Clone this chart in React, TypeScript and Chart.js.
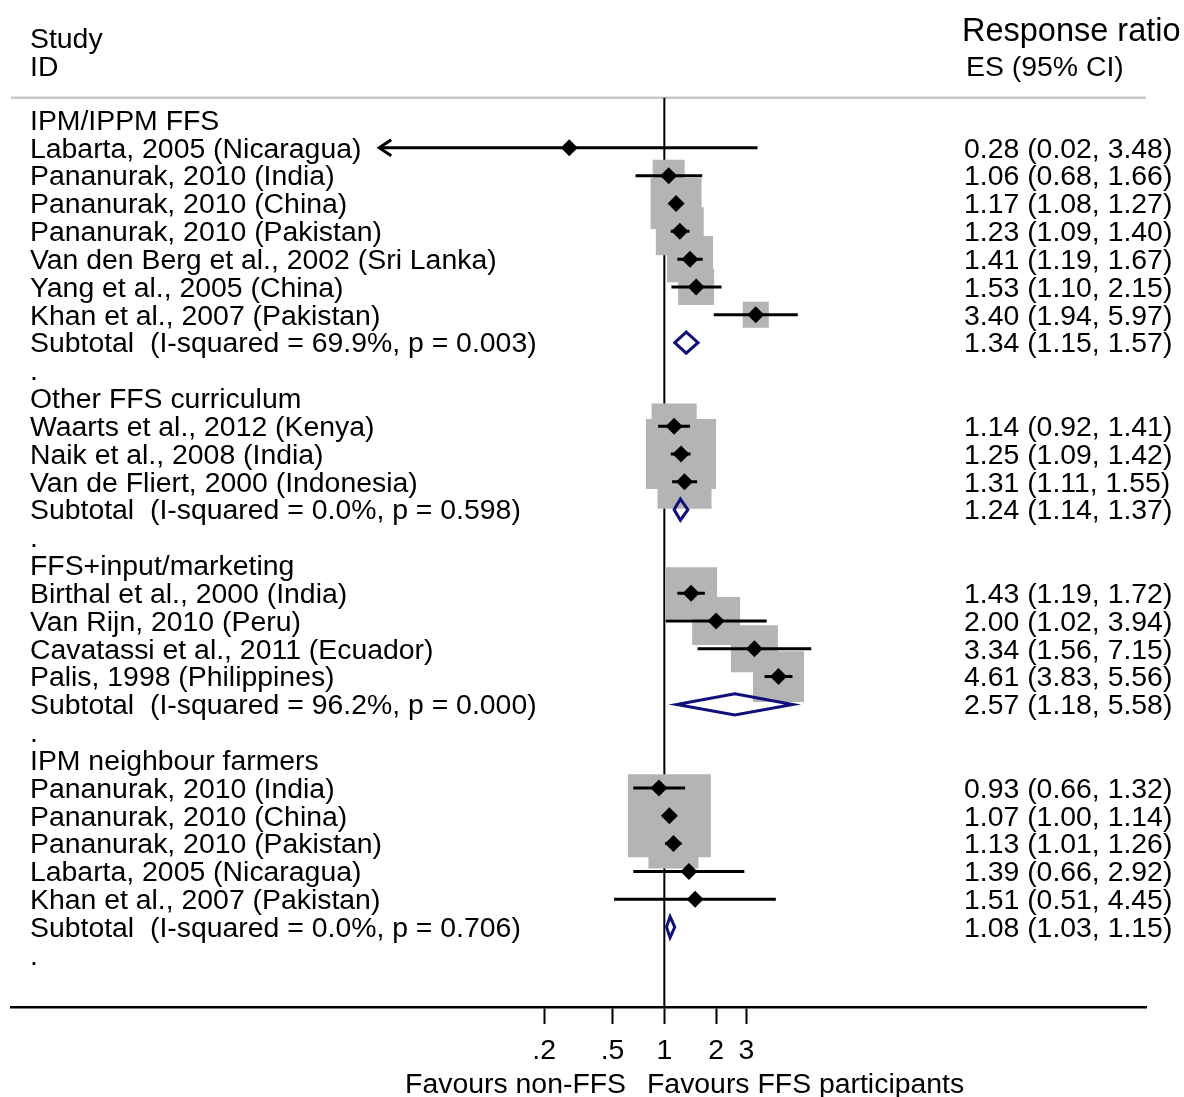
import React, { useEffect, useRef } from "react";
import { Chart, registerables } from "chart.js";

Chart.register(...registerables);

// ---------- data ----------
const rowLabels: string[] = [
  "IPM/IPPM FFS",
  "Labarta, 2005 (Nicaragua)",
  "Pananurak, 2010 (India)",
  "Pananurak, 2010 (China)",
  "Pananurak, 2010 (Pakistan)",
  "Van den Berg et al., 2002 (Sri Lanka)",
  "Yang et al., 2005 (China)",
  "Khan et al., 2007 (Pakistan)",
  "Subtotal  (I-squared = 69.9%, p = 0.003)",
  ".",
  "Other FFS curriculum",
  "Waarts et al., 2012 (Kenya)",
  "Naik et al., 2008 (India)",
  "Van de Fliert, 2000 (Indonesia)",
  "Subtotal  (I-squared = 0.0%, p = 0.598)",
  ".",
  "FFS+input/marketing",
  "Birthal et al., 2000 (India)",
  "Van Rijn, 2010 (Peru)",
  "Cavatassi et al., 2011 (Ecuador)",
  "Palis, 1998 (Philippines)",
  "Subtotal  (I-squared = 96.2%, p = 0.000)",
  ".",
  "IPM neighbour farmers",
  "Pananurak, 2010 (India)",
  "Pananurak, 2010 (China)",
  "Pananurak, 2010 (Pakistan)",
  "Labarta, 2005 (Nicaragua)",
  "Khan et al., 2007 (Pakistan)",
  "Subtotal  (I-squared = 0.0%, p = 0.706)",
  ".",
];

const studyRows = [1, 2, 3, 4, 5, 6, 7, 11, 12, 13, 17, 18, 19, 20, 24, 25, 26, 27, 28];
const studyES = [0.28, 1.06, 1.17, 1.23, 1.41, 1.53, 3.4, 1.14, 1.25, 1.31, 1.43, 2.0, 3.34, 4.61, 0.93, 1.07, 1.13, 1.39, 1.51];
const studyLo = [0.02, 0.68, 1.08, 1.09, 1.19, 1.1, 1.94, 0.92, 1.09, 1.11, 1.19, 1.02, 1.56, 3.83, 0.66, 1.0, 1.01, 0.66, 0.51];
const studyHi = [3.48, 1.66, 1.27, 1.4, 1.67, 2.15, 5.97, 1.41, 1.42, 1.55, 1.72, 3.94, 7.15, 5.56, 1.32, 1.14, 1.26, 2.92, 4.45];
// weights (%) within subgroup
const studyWeight = [0.3, 10.2, 26, 23, 21.2, 13, 6.8, 20.3, 49, 29.2, 27, 23, 22, 26, 4.5, 68.9, 25, 0.6, 0.3];

const subRows = [8, 14, 21, 29];
const subES = [1.34, 1.24, 2.57, 1.08];
const subLo = [1.15, 1.14, 1.18, 1.03];
const subHi = [1.57, 1.37, 5.58, 1.15];

const tickValues = [0.2, 0.5, 1, 2, 3];
const tickLabels = [".2", ".5", "1", "2", "3"];

const xMin = 0.000159;
const xMax = 631.7;
const xClip = 0.022; // CIs beyond the displayed range are drawn as arrows
const yMin = -0.8;
const yMax = 31.87;

// ---------- styles ----------
const FONT = '"Liberation Sans", Arial, Helvetica, sans-serif';
const FS = 28.4;
const BOX_COLOR = "#b4b4b4";
const DIAMOND_COLOR = "#10107a";
const DIAMOND_HALF = 0.38; // rows
const TEXT_DY = 2;

const fmt = (v: number) => v.toFixed(2);

export default function App() {
  const ref = useRef<HTMLCanvasElement | null>(null);

  useEffect(() => {
    if (!ref.current) return;

    const rightLabels: Record<number, string> = {};
    studyRows.forEach((r, i) => {
      rightLabels[r] = `${fmt(studyES[i])} (${fmt(studyLo[i])}, ${fmt(studyHi[i])})`;
    });
    subRows.forEach((r, i) => {
      rightLabels[r] = `${fmt(subES[i])} (${fmt(subLo[i])}, ${fmt(subHi[i])})`;
    });

    const boxData = studyRows.map((r, i) => ({ x: studyES[i], y: r }));
    const boxRadius = studyWeight.map((w) => (10 * Math.sqrt(w)) / Math.SQRT2);

    const ciData: any[] = [];
    studyRows.forEach((r, i) => {
      ciData.push({ x: Math.max(studyLo[i], xClip), y: r });
      ciData.push({ x: studyHi[i], y: r });
      ciData.push({ x: null, y: null });
    });

    const diamondData: any[] = [];
    subRows.forEach((r, i) => {
      diamondData.push({ x: subLo[i], y: r });
      diamondData.push({ x: subES[i], y: r - DIAMOND_HALF });
      diamondData.push({ x: subHi[i], y: r });
      diamondData.push({ x: subES[i], y: r + DIAMOND_HALF });
      diamondData.push({ x: subLo[i], y: r });
      diamondData.push({ x: subES[i], y: r - DIAMOND_HALF });
      diamondData.push({ x: null, y: null });
    });

    const decor = {
      id: "forestDecor",
      beforeDatasetsDraw(chart: any) {
        const { ctx, chartArea, scales } = chart;
        ctx.save();
        ctx.strokeStyle = "#c8c8c8";
        ctx.lineWidth = 2.5;
        ctx.beginPath();
        ctx.moveTo(chartArea.left, chartArea.top);
        ctx.lineTo(chartArea.right, chartArea.top);
        ctx.stroke();
        const x1 = scales.x.getPixelForValue(1);
        ctx.strokeStyle = "#000";
        ctx.lineWidth = 2;
        ctx.beginPath();
        ctx.moveTo(x1, chartArea.top);
        ctx.lineTo(x1, chartArea.bottom);
        ctx.stroke();
        ctx.restore();
      },
      afterDatasetsDraw(chart: any) {
        const { ctx, scales } = chart;
        ctx.save();
        ctx.strokeStyle = "#000";
        ctx.lineWidth = 3;
        studyRows.forEach((r, i) => {
          if (studyLo[i] < xClip) {
            const px = scales.x.getPixelForValue(xClip);
            const py = scales.y.getPixelForValue(r);
            ctx.beginPath();
            ctx.moveTo(px + 12, py - 8);
            ctx.lineTo(px, py);
            ctx.lineTo(px + 12, py + 8);
            ctx.stroke();
          }
        });
        ctx.restore();
      },
      afterDraw(chart: any) {
        const { ctx, scales } = chart;
        ctx.save();
        ctx.fillStyle = "#000";
        ctx.textBaseline = "middle";
        ctx.font = `${FS}px ${FONT}`;
        ctx.textAlign = "left";
        rowLabels.forEach((t, r) => {
          const py = scales.y.getPixelForValue(r) + TEXT_DY;
          ctx.fillText(t, 30, py);
          if (rightLabels[r]) ctx.fillText(rightLabels[r], 964, py);
        });
        ctx.fillText("Study", 30, 38 + TEXT_DY);
        ctx.fillText("ID", 30, 66 + TEXT_DY);
        ctx.fillText("ES (95% CI)", 966, 66 + TEXT_DY);
        ctx.font = `32.5px ${FONT}`;
        ctx.fillText("Response ratio", 962, 30 + TEXT_DY);
        ctx.font = `${FS}px ${FONT}`;
        ctx.textAlign = "right";
        ctx.fillText("Favours non-FFS", 626, 1083 + TEXT_DY);
        ctx.textAlign = "left";
        ctx.fillText("Favours FFS participants", 647, 1083 + TEXT_DY);
        ctx.restore();
      },
    };

    const chart = new Chart(ref.current, {
      type: "scatter",
      data: {
        datasets: [
          {
            label: "boxes",
            data: boxData,
            pointStyle: "rect",
            pointRadius: boxRadius,
            backgroundColor: BOX_COLOR,
            borderWidth: 0,
            showLine: false,
            order: 3,
          } as any,
          {
            label: "ci",
            data: ciData,
            showLine: true,
            spanGaps: false,
            borderColor: "#000",
            borderWidth: 3,
            pointRadius: 0,
            fill: false,
            order: 2,
          } as any,
          {
            label: "es",
            data: boxData,
            pointStyle: "rectRot",
            pointRadius: 8.5,
            backgroundColor: "#000",
            borderWidth: 0,
            showLine: false,
            order: 1,
          } as any,
          {
            label: "subtotal",
            data: diamondData,
            showLine: true,
            spanGaps: false,
            borderColor: DIAMOND_COLOR,
            borderWidth: 3,
            borderJoinStyle: "miter",
            pointRadius: 0,
            fill: false,
            order: 0,
          } as any,
        ],
      },
      options: {
        responsive: false,
        animation: false,
        devicePixelRatio: 1,
        events: [],
        layout: { autoPadding: false, padding: { left: 11, right: 38, top: 97.7, bottom: 0 } },
        plugins: { legend: { display: false }, tooltip: { enabled: false } },
        scales: {
          x: {
            type: "logarithmic",
            min: xMin,
            max: xMax,
            position: "bottom",
            border: { display: true, color: "#000", width: 2.5 },
            grid: {
              display: true,
              drawOnChartArea: false,
              drawTicks: true,
              tickLength: 17,
              tickWidth: 2,
              tickColor: "#000",
            },
            ticks: {
              autoSkip: false,
              maxRotation: 0,
              color: "#000",
              padding: 10,
              font: { size: FS, family: FONT },
              callback: (v: any) => {
                const k = tickValues.findIndex((t) => Math.abs(t - Number(v)) < 1e-9);
                return k >= 0 ? tickLabels[k] : "";
              },
            },
            afterBuildTicks: (s: any) => {
              s.ticks = tickValues.map((v) => ({ value: v }));
            },
            afterFit: (s: any) => {
              s.height = 90;
              s.paddingLeft = 0;
              s.paddingRight = 0;
            },
          } as any,
          y: {
            type: "linear",
            min: yMin,
            max: yMax,
            reverse: true,
            display: false,
          },
        },
      },
      plugins: [decor],
    } as any);

    return () => chart.destroy();
  }, []);

  return (
    <div style={{ position: "absolute", left: 0, top: 0, width: 1184, height: 1097, background: "#fff" }}>
      <canvas ref={ref} width={1184} height={1097} />
    </div>
  );
}
